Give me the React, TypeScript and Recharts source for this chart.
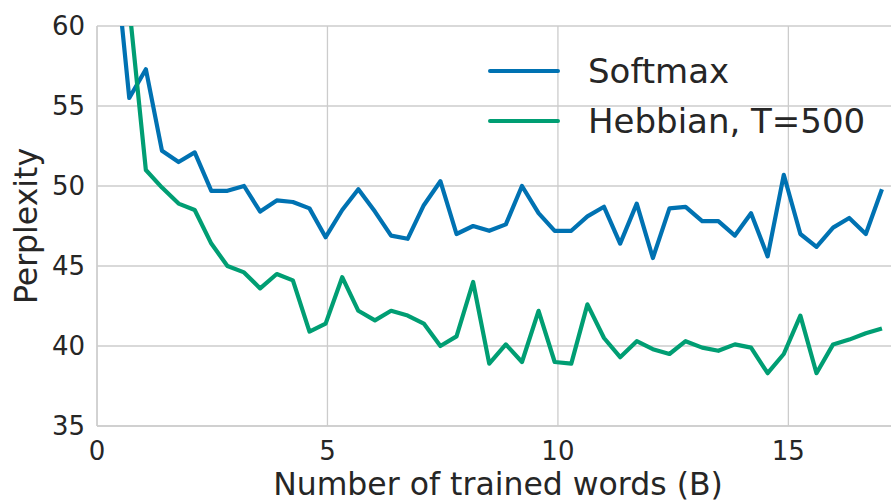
import React from 'react';
import { LineChart, Line, XAxis, YAxis, CartesianGrid, Legend, Label } from 'recharts';

// Billions of trained words at each checkpoint
const trainedWords = [
  0.35, 0.70, 1.06, 1.41, 1.77, 2.12, 2.48, 2.83, 3.19, 3.54, 3.90, 4.25,
  4.61, 4.96, 5.32, 5.67, 6.03, 6.38, 6.74, 7.09, 7.45, 7.80, 8.16, 8.51,
  8.87, 9.22, 9.58, 9.93, 10.29, 10.64, 11.00, 11.35, 11.71, 12.06, 12.42, 12.77,
  13.13, 13.48, 13.84, 14.19, 14.55, 14.90, 15.26, 15.61, 15.97, 16.32, 16.68, 17.03
];

const softmaxPerplexity = [
  65.6, 55.5, 57.3, 52.2, 51.5, 52.1, 49.7, 49.7, 50.0, 48.4, 49.1, 49.0,
  48.6, 46.8, 48.5, 49.8, 48.4, 46.9, 46.7, 48.8, 50.3, 47.0, 47.5, 47.2,
  47.6, 50.0, 48.3, 47.2, 47.2, 48.1, 48.7, 46.4, 48.9, 45.5, 48.6, 48.7,
  47.8, 47.8, 46.9, 48.3, 45.6, 50.7, 47.0, 46.2, 47.4, 48.0, 47.0, 49.8
];

const hebbianPerplexity = [
  70.0, 61.2, 51.0, 49.9, 48.9, 48.5, 46.4, 45.0, 44.6, 43.6, 44.5, 44.1,
  40.9, 41.4, 44.3, 42.2, 41.6, 42.2, 41.9, 41.4, 40.0, 40.6, 44.0, 38.9,
  40.1, 39.0, 42.2, 39.0, 38.9, 42.6, 40.5, 39.3, 40.3, 39.8, 39.5, 40.3,
  39.9, 39.7, 40.1, 39.9, 38.3, 39.5, 41.9, 38.3, 40.1, 40.4, 40.8, 41.1
];

const seriesNames = ['Softmax', 'Hebbian, T=500'];
const xTicks = [0, 5, 10, 15];
const yTicks = [35, 40, 45, 50, 55, 60];

const data = trainedWords.map((x, i) => ({
  x,
  softmax: softmaxPerplexity[i],
  hebbian: hebbianPerplexity[i]
}));

const FONT = '"DejaVu Sans", sans-serif';
const TEXT = '#262626';
const GRID = '#cccccc';

const XTick = ({ x, payload }: any) => (
  <text x={x} y={460} textAnchor="middle" fontSize={26} fill={TEXT} fontFamily={FONT}>
    {payload.value}
  </text>
);

const YTick = ({ y, payload }: any) => (
  <text x={85} y={y} dy="0.35em" textAnchor="end" fontSize={26} fill={TEXT} fontFamily={FONT}>
    {payload.value}
  </text>
);

// keep the legend in plotting order (Recharts sorts it by name otherwise)
const LegendBox = ({ payload }: any) => {
  const items = [...(payload || [])].sort(
    (a: any, b: any) => seriesNames.indexOf(a.value) - seriesNames.indexOf(b.value)
  );
  return (
    <div style={{ fontFamily: FONT }}>
      {items.map((entry: any) => (
        <div key={entry.value} style={{ display: 'flex', alignItems: 'center', height: 50 }}>
          <div style={{ width: 72, height: 4, borderRadius: 2, background: entry.color, marginRight: 28 }} />
          <span style={{ fontSize: 34, lineHeight: '50px', color: TEXT, whiteSpace: 'nowrap' }}>{entry.value}</span>
        </div>
      ))}
    </div>
  );
};

export default function App() {
  return (
    <div
      style={{
        position: 'fixed',
        left: 0,
        top: 0,
        width: 891,
        height: 502,
        overflow: 'hidden',
        background: '#ffffff'
      }}
    >
      <LineChart
        width={905}
        height={502}
        data={data}
        margin={{ top: 26, right: 6, bottom: 0, left: 0 }}
        style={{ fontFamily: FONT }}
      >
        <CartesianGrid stroke={GRID} strokeWidth={1.3} />
        <XAxis
          type="number"
          dataKey="x"
          domain={[0, 17.4]}
          ticks={xTicks}
          allowDataOverflow
          height={76}
          axisLine={{ stroke: GRID, strokeWidth: 1.3 }}
          tickLine={false}
          tick={<XTick />}
        >
          <Label
            content={({ viewBox }: any) => (
              <text
                x={viewBox.x + viewBox.width / 2}
                y={495}
                textAnchor="middle"
                fontSize={31.5}
                fill={TEXT}
                fontFamily={FONT}
              >
                Number of trained words (B)
              </text>
            )}
          />
        </XAxis>
        <YAxis
          type="number"
          domain={[35, 60]}
          ticks={yTicks}
          allowDataOverflow
          width={97}
          axisLine={{ stroke: GRID, strokeWidth: 1.3 }}
          tickLine={false}
          tick={<YTick />}
        >
          <Label
            content={({ viewBox }: any) => {
              const cy = viewBox.y + viewBox.height / 2;
              return (
                <text
                  x={26}
                  y={cy}
                  transform={`rotate(-90, 26, ${cy})`}
                  textAnchor="middle"
                  dominantBaseline="central"
                  fontSize={31.5}
                  fill={TEXT}
                  fontFamily={FONT}
                >
                  Perplexity
                </text>
              );
            }}
          />
        </YAxis>
        <Legend
          layout="vertical"
          align="center"
          verticalAlign="middle"
          wrapperStyle={{ top: 46, left: 488, width: 400 }}
          content={<LegendBox />}
        />
        <Line
          type="linear"
          dataKey="softmax"
          name={seriesNames[0]}
          stroke="#0072b2"
          strokeWidth={4.2}
          strokeLinejoin="round"
          dot={false}
          isAnimationActive={false}
        />
        <Line
          type="linear"
          dataKey="hebbian"
          name={seriesNames[1]}
          stroke="#009e73"
          strokeWidth={4.2}
          strokeLinejoin="round"
          dot={false}
          isAnimationActive={false}
        />
      </LineChart>
    </div>
  );
}
